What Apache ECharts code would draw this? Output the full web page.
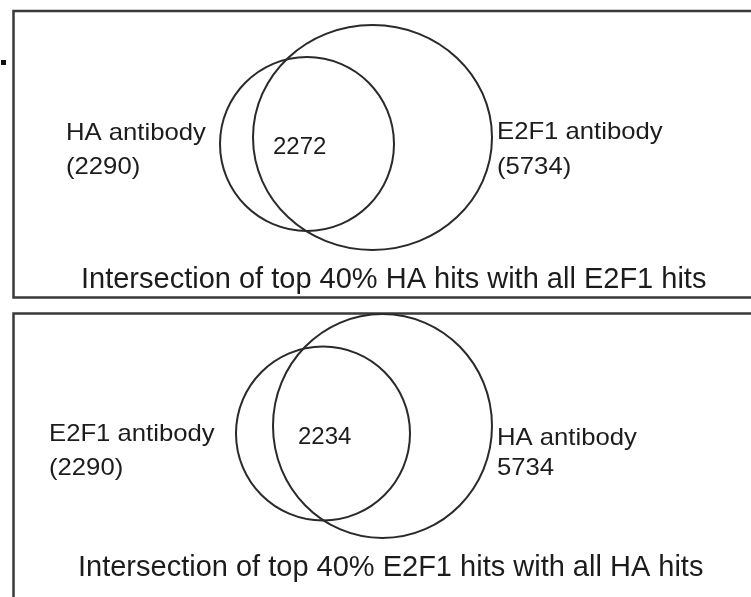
<!DOCTYPE html>
<html>
<head>
<meta charset="utf-8">
<script src="https://cdn.jsdelivr.net/npm/echarts@6/dist/echarts.min.js"></script>
<style>
  html, body { margin: 0; padding: 0; background: #fff; }
  #main { width: 751px; height: 597px; }
</style>
</head>
<body>
<div id="main"></div>
<script>
// panel texts
var captions = ['Intersection of top 40% HA hits with all E2F1 hits', 'Intersection of top 40% E2F1 hits with all HA hits'];
var leftNames = ['HA antibody', 'E2F1 antibody'];
var leftCounts = ['(2290)', '(2290)'];
var rightNames = ['E2F1 antibody', 'HA antibody'];
var rightCounts = ['(5734)', '5734'];
var overlapCounts = ['2272', '2234'];

// venn layout, one row per panel: [cx, cy, rx, ry]
var smallSets = [[307, 144, 87, 87], [323, 433.5, 87, 87]];
var bigSets = [[372.5, 137.5, 119.5, 112.5], [382.5, 426, 109.5, 112]];

var ink = '#1c1c1c';
var labelFont = 24;
var captionFont = 29;

// text anchors (left, middle); kind: 0 set label, 1 overlap, 2 caption
var labels = [];
var labelPos = [
    [[66, 133], [66, 167], [273, 147], [497, 132], [497, 167], [81, 280]],
    [[49, 434], [49, 468], [298, 437], [497, 438], [497, 468], [78, 568]]
];
var kinds = [0, 0, 1, 0, 0, 2];
for (var p = 0; p < 2; p++) {
    var txt = [leftNames[p], leftCounts[p], overlapCounts[p], rightNames[p], rightCounts[p], captions[p]];
    for (var k = 0; k < txt.length; k++) {
        labels.push({ value: labelPos[p][k], name: txt[k], kind: kinds[k] });
    }
}

var chart = echarts.init(document.getElementById('main'), null, { renderer: 'canvas' });

chart.setOption({
    animation: false,
    backgroundColor: '#fff',
    grid: { left: 0, right: 0, top: 0, bottom: 0 },
    xAxis: { type: 'value', min: 0, max: 751, show: false },
    yAxis: { type: 'value', min: 0, max: 597, inverse: true, show: false },
    graphic: [
        { type: 'rect', shape: { x: 13.5, y: 11, width: 760, height: 286.5 }, style: { fill: 'none', stroke: '#3a3a3a', lineWidth: 2.5 }, z: 1 },
        { type: 'rect', shape: { x: 13.5, y: 313.5, width: 760, height: 300 }, style: { fill: 'none', stroke: '#3a3a3a', lineWidth: 2.5 }, z: 1 },
        { type: 'rect', shape: { x: 1, y: 60, width: 5, height: 5 }, style: { fill: '#111' }, z: 1 }
    ],
    series: [
        {
            type: 'custom',
            coordinateSystem: 'cartesian2d',
            data: smallSets.concat(bigSets),
            renderItem: function (params, api) {
                var c = api.coord([api.value(0), api.value(1)]);
                var s = api.size([api.value(2), api.value(3)]);
                return {
                    type: 'ellipse',
                    shape: { cx: c[0], cy: c[1], rx: Math.abs(s[0]), ry: Math.abs(s[1]) },
                    style: { fill: 'none', stroke: '#2a2a2a', lineWidth: 2 }
                };
            },
            silent: true
        },
        {
            type: 'custom',
            coordinateSystem: 'cartesian2d',
            data: labels,
            renderItem: function (params, api) {
                var c = api.coord([api.value(0), api.value(1)]);
                var item = labels[params.dataIndex];
                return {
                    type: 'text',
                    x: c[0],
                    y: c[1],
                    // the set labels in the source are a bit wider than the font
                    scaleX: item.kind === 0 ? 1.07 : 1,
                    style: {
                        text: item.name,
                        fill: ink,
                        font: (item.kind === 2 ? captionFont : labelFont) + 'px "Liberation Sans", Arial, sans-serif',
                        align: 'left',
                        verticalAlign: 'middle'
                    }
                };
            },
            silent: true
        }
    ]
});
</script>
</body>
</html>
